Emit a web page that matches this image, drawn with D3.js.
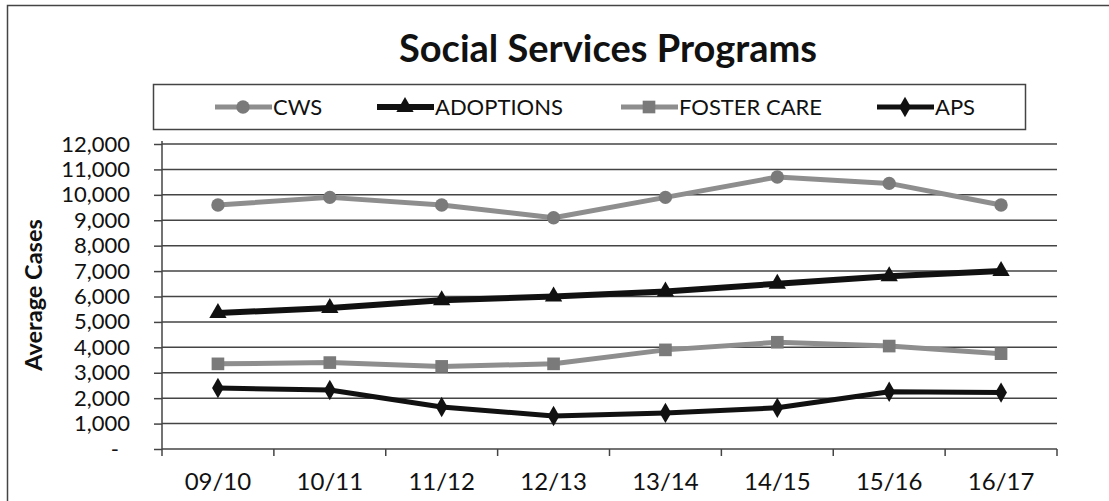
<!DOCTYPE html>
<html><head><meta charset="utf-8">
<script src="https://cdn.jsdelivr.net/npm/d3@7"></script>
<style>
html,body{margin:0;padding:0;background:#fff;}
svg{display:block;font-family:Lato,"Open Sans",sans-serif;}
</style></head>
<body>
<svg id="c" width="1109" height="501"></svg>
<script>
const categories = ["09/10","10/11","11/12","12/13","13/14","14/15","15/16","16/17"];
const cws        = [9600, 9900, 9600, 9100, 9900, 10700, 10450, 9600];
const adoptions  = [5350, 5550, 5850, 6000, 6200, 6500, 6800, 7000];
const fosterCare = [3350, 3400, 3250, 3350, 3900, 4200, 4050, 3750];
const aps        = [2400, 2320, 1650, 1300, 1420, 1620, 2250, 2220];
const yTicks     = [0,1000,2000,3000,4000,5000,6000,7000,8000,9000,10000,11000,12000];
const seriesNames = ["CWS","ADOPTIONS","FOSTER CARE","APS"];

const series = [
  {name: seriesNames[0], values: cws,        color:"#8e8e8e", mcolor:"#7a7a7a", width:5, symbol:d3.symbolCircle,   size:140},
  {name: seriesNames[1], values: adoptions,  color:"#111",    mcolor:"#111",    width:6, symbol:d3.symbolTriangle, size:130},
  {name: seriesNames[2], values: fosterCare, color:"#8e8e8e", mcolor:"#7a7a7a", width:5, symbol:d3.symbolSquare,   size:160},
  {name: seriesNames[3], values: aps,        color:"#111",    mcolor:"#111",    width:5, symbol:d3.symbolDiamond,  size:120}
];

const svg = d3.select("#c");
const pLeft = 162, pRight = 1057, pTop = 144, pBottom = 449;

// outer border (left and top edges visible)
svg.append("path").attr("d","M7.5,501 V5.5 H1109").attr("fill","none").attr("stroke","#444").attr("stroke-width",1.5);

svg.append("text").attr("x",608).attr("y",62).attr("text-anchor","middle")
  .attr("font-size",38).attr("font-weight","bold").attr("fill","#111").text("Social Services Programs");

const x = d3.scaleBand().domain(categories).range([pLeft,pRight]);
const y = d3.scaleLinear().domain([0,12000]).range([pBottom,pTop]);

// gridlines
svg.append("g").selectAll("line").data(yTicks.filter(d=>d>0)).join("line")
  .attr("x1",pLeft).attr("x2",pRight).attr("y1",d=>y(d)).attr("y2",d=>y(d))
  .attr("stroke","#444").attr("stroke-width",1.5);

// y axis
const yAxis = d3.axisLeft(y).tickValues(yTicks).tickSize(8).tickPadding(24)
  .tickFormat(d=> d===0 ? "-" : d3.format(",")(d));
const gy = svg.append("g").attr("transform",`translate(${pLeft},0)`).call(yAxis);
gy.select(".domain").attr("stroke","#444").attr("stroke-width",1.5).attr("d",`M0,${pTop-3}V${pBottom}`);
gy.selectAll(".tick line").attr("stroke","#444").attr("stroke-width",1.5);
gy.selectAll("text").attr("font-size",22).attr("fill","#111").attr("font-family","Lato,sans-serif");
gy.selectAll(".tick").filter(d=>d===0).select("text").attr("dx",-11);

// x axis
const xAxis = d3.axisBottom(x).tickSize(0).tickPadding(24);
const gx = svg.append("g").attr("transform",`translate(0,${pBottom})`).call(xAxis);
gx.select(".domain").attr("stroke","#444").attr("stroke-width",1.5).attr("d",`M${pLeft},0H${pRight}`);
gx.selectAll("text").attr("font-size",24).attr("fill","#111").attr("font-family","Lato,sans-serif");
const bounds = categories.map(c=>x(c)).concat([pRight]);
gx.append("g").selectAll("line").data(bounds).join("line")
  .attr("x1",d=>d).attr("x2",d=>d).attr("y1",0).attr("y2",7)
  .attr("stroke","#444").attr("stroke-width",1.5);

svg.append("text").attr("transform","translate(42,295) rotate(-90)").attr("text-anchor","middle")
  .attr("font-size",23.5).attr("font-weight","bold").attr("fill","#111").text("Average Cases");

// lines and markers
const line = d3.line().x((d,i)=>x(categories[i])+x.bandwidth()/2).y(d=>y(d));
series.forEach(s=>{
  svg.append("path").datum(s.values).attr("d",line).attr("fill","none")
    .attr("stroke",s.color).attr("stroke-width",s.width).attr("stroke-linejoin","round");
  svg.append("g").selectAll("path").data(s.values).join("path")
    .attr("transform",(d,i)=>`translate(${x(categories[i])+x.bandwidth()/2},${y(d)})`)
    .attr("d",d3.symbol().type(s.symbol).size(s.size)).attr("fill",s.mcolor);
});

// legend
svg.append("rect").attr("x",153.5).attr("y",84.5).attr("width",872).attr("height",45)
  .attr("fill","none").attr("stroke","#444").attr("stroke-width",1.5);
const legendX = [215, 377, 621, 877];
series.forEach((s,i)=>{
  const g = svg.append("g").attr("transform",`translate(${legendX[i]},107)`);
  g.append("line").attr("x1",0).attr("x2",57).attr("y1",0).attr("y2",0)
    .attr("stroke",s.color).attr("stroke-width",s.width);
  g.append("path").attr("transform","translate(28,0)").attr("d",d3.symbol().type(s.symbol).size(s.size)).attr("fill",s.mcolor);
  g.append("text").attr("x",58).attr("y",8).attr("font-size",22).attr("fill","#111").text(s.name);
});
</script>
</body></html>
